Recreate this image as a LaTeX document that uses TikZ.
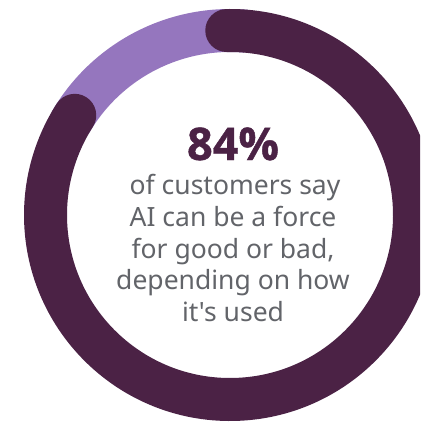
\documentclass[tikz,border=0pt]{standalone}
\usepackage{fontspec}
\newfontfamily\bodyfont{Noto Sans}
\newfontfamily\bigfont[FakeBold=1]{Open Sans Bold}
\definecolor{darkplum}{HTML}{4B2245}
\definecolor{lilac}{HTML}{9576BE}
\definecolor{txtgray}{HTML}{626469}
\tikzset{
  ringpart/.style={line width=43pt},
  bodytxt/.style={text=txtgray,font=\fontsize{26.5}{26.5}\bodyfont,anchor=base,inner sep=0pt},
  bigtxt/.style={text=darkplum,font=\fontsize{45}{45}\bigfont,anchor=base,inner sep=0pt}
}
\begin{document}
\begin{tikzpicture}[x=1pt,y=-1pt]
\useasboundingbox (0,0) rectangle (420,422);
\begin{scope}
\clip (0,0) rectangle (420,422);
\coordinate (c) at (230,215);
\draw[ringpart,lilac] (c) ++(-150:184.5) arc[start angle=-150,end angle=-85,radius=184.5];
\draw[ringpart,darkplum,line cap=round] (c) ++(-91:184.5) arc[start angle=-91,end angle=212.7,radius=184.5];
\end{scope}
\node[bigtxt] (pct) at (233,160) {84\%};
\node[bodytxt] (l1) at (235,194) {of customers say};
\node[bodytxt] (l2) at (233,226) {AI can be a force};
\node[bodytxt] (l3) at (233,258) {for good or bad,};
\node[bodytxt] (l4) at (233,289) {depending on how};
\node[bodytxt] (l5) at (233,321) {it's used};
\end{tikzpicture}
\end{document}
